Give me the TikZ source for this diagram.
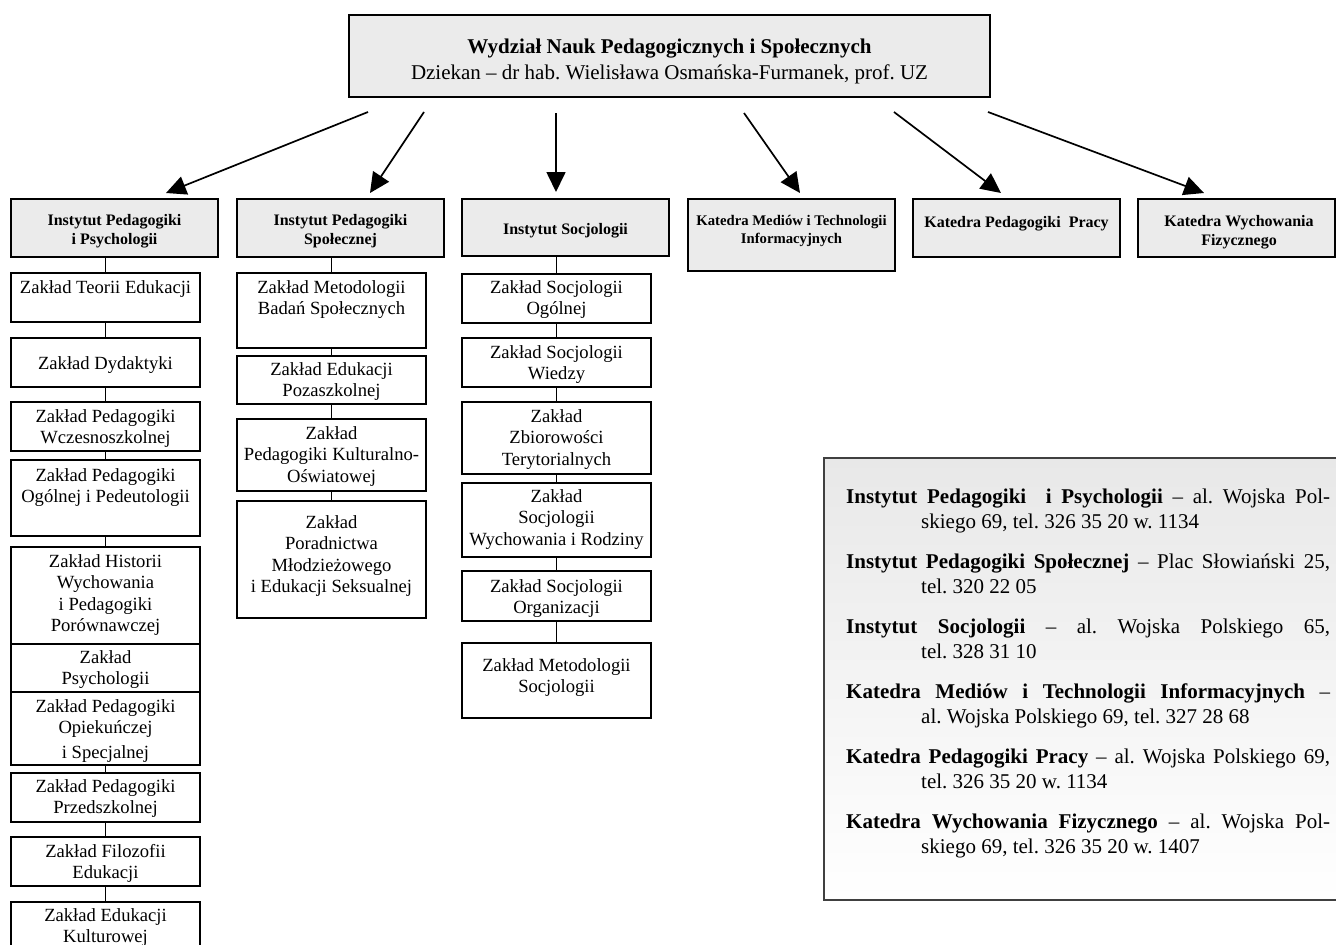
\documentclass[tikz,border=0pt]{standalone}
\usepackage{fontspec}
\setmainfont{Liberation Serif}
\usetikzlibrary{arrows.meta,calc}
\frenchspacing
\definecolor{hdrgray}{RGB}{235,235,235}
\definecolor{leggray}{RGB}{232,232,232}
\newcommand\subf{\fontsize{18.6pt}{21.5pt}\selectfont}
\newcommand\hdrf{\bfseries\fontsize{16pt}{19pt}\selectfont}
\newcommand\legf{\fontsize{21pt}{25pt}\selectfont}
\newcommand\topf{\fontsize{21pt}{26pt}\selectfont}
\newcommand\ZakT[4]{\node[txt] (#1) at (#2,#3) {\parbox[t]{240pt}{\centering\subf #4}};}
\newcommand\HdrT[4]{\node[txt] (#1) at (#2,#3) {\parbox[t]{240pt}{\centering\hdrf #4}};}
\newcommand\LegT[4]{\node[txt, anchor=base west] (#1) at (#2,#3) {\parbox[t]{484pt}{\legf\frenchspacing\tolerance=9999 \spaceskip=.25em plus .6em\hangindent=75pt\hangafter=1 #4}};}
\tikzset{
 sub/.style={draw, line width=1.8pt, fill=white, inner sep=0pt, outer sep=0pt, anchor=north west, minimum width=189pt},
 hdr/.style={draw, line width=1.8pt, fill=hdrgray, inner sep=0pt, outer sep=0pt, anchor=north west, minimum width=207pt, minimum height=58pt},
 txt/.style={inner sep=0pt, anchor=base},
 conn/.style={line width=1.8pt},
 arr/.style={line width=1.7pt, -{Triangle[length=20pt,width=19pt]}},
}
\begin{document}
\begin{tikzpicture}[x=1pt,y=-1pt]
\useasboundingbox (0,0) rectangle (1336,945);
\fill[white] (0,0) rectangle (1336,945);
\clip (0,0) rectangle (1336,945);

% top box
\node[draw, line width=2.4pt, fill=hdrgray, inner sep=0pt, outer sep=0pt, anchor=north west, minimum width=641pt, minimum height=82pt] (wydz) at (349,15) {};
\node[txt] (wydzT) at (669.5,53) {\parbox[t]{640pt}{\centering\topf\frenchspacing\textbf{Wydział Nauk Pedagogicznych i Społecznych}\\Dziekan – dr hab. Wielisława Osmańska-Furmanek, prof. UZ}};

% header boxes
\node[hdr] (ipip) at (11,199) {};
\node[hdr] (ips) at (237,199) {};
\node[hdr, minimum height=57pt] (is) at (462,199) {};
\node[hdr, minimum height=72pt] (kmti) at (688,199) {};
\node[hdr] (kpp) at (913,199) {};
\node[hdr, minimum width=197pt] (kwf) at (1138,199) {};

\HdrT{ipipT}{114.5}{225}{Instytut Pedagogiki\\i Psychologii}
\HdrT{ipsT}{340.5}{225}{Instytut Pedagogiki\\Społecznej}
\HdrT{isT}{565.5}{234}{Instytut Socjologii}
\node[txt] (kmtiT) at (791.5,225) {\parbox[t]{240pt}{\centering\bfseries\fontsize{14.7pt}{18.5pt}\selectfont Katedra Mediów i Technologii\\Informacyjnych}};
\HdrT{kppT}{1016.5}{227}{Katedra Pedagogiki\ \ Pracy}
\HdrT{kwfT}{1239}{226}{Katedra Wychowania\\Fizycznego}

% arrows
\coordinate (s1) at (368,112);
\coordinate (s2) at (424,112);
\coordinate (s3) at (556,113);
\coordinate (s4) at (744,113);
\coordinate (s5) at (894,112);
\coordinate (s6) at (988,112);
\draw[arr] (s1) -- ([xshift=51.5pt,yshift=6pt]ipip.north);
\draw[arr] (s2) -- ([xshift=29.5pt,yshift=6pt]ips.north);
\draw[arr] (s3) -- ([xshift=-9.5pt,yshift=7pt]is.north);
\draw[arr] (s4) -- ([xshift=8.5pt,yshift=6pt]kmti.north);
\draw[arr] (s5) -- ([xshift=-15.5pt,yshift=6pt]kpp.north);
\draw[arr] (s6) -- ([xshift=-32.5pt,yshift=6pt]kwf.north);

% column 1
\node[sub, minimum height=49pt] (c1a) at (11,273) {};
\node[sub, minimum height=49pt] (c1b) at (11,338) {};
\node[sub, minimum height=49pt] (c1c) at (11,402) {};
\node[sub, minimum height=76pt] (c1d) at (11,460) {};
\node[sub, minimum height=97pt] (c1e) at (11,547) {};
\node[sub, minimum height=48pt] (c1f) at (11,644) {};
\node[sub, minimum height=73pt] (c1g) at (11,692) {};
\node[sub, minimum height=49pt] (c1h) at (11,773) {};
\node[sub, minimum height=49pt] (c1i) at (11,837) {};
\node[sub, minimum height=80pt] (c1j) at (11,902) {};
\draw[conn] (c1a.north |- ipip.south) -- (c1a.north);
\draw[conn] (c1a.south) -- (c1b.north);
\draw[conn] (c1b.south) -- (c1c.north);
\draw[conn] (c1c.south) -- (c1d.north);
\draw[conn] (c1d.south) -- (c1e.north);
\draw[conn] (c1g.south) -- (c1h.north);
\draw[conn] (c1h.south) -- (c1i.north);
\draw[conn] (c1i.south) -- (c1j.north);
\ZakT{c1aT}{105.5}{293}{Zakład Teorii Edukacji}
\ZakT{c1bT}{105.5}{369}{Zakład Dydaktyki}
\ZakT{c1cT}{105.5}{422}{Zakład Pedagogiki\\Wczesnoszkolnej}
\ZakT{c1dT}{105.5}{481}{Zakład Pedagogiki\\Ogólnej i Pedeutologii}
\ZakT{c1eT}{105.5}{567}{Zakład Historii\\Wychowania\\i Pedagogiki\\Porównawczej}
\ZakT{c1fT}{105.5}{663}{Zakład\\Psychologii}
\ZakT{c1gT}{105.5}{712}{Zakład Pedagogiki\\Opiekuńczej\\[3.5pt]i Specjalnej}
\ZakT{c1hT}{105.5}{792}{Zakład Pedagogiki\\Przedszkolnej}
\ZakT{c1iT}{105.5}{857}{Zakład Filozofii\\Edukacji}
\ZakT{c1jT}{105.5}{921}{Zakład Edukacji\\Kulturowej}

% column 2
\node[sub, minimum height=75pt] (c2a) at (237,273) {};
\node[sub, minimum height=48pt] (c2b) at (237,356) {};
\node[sub, minimum height=72pt] (c2c) at (237,419) {};
\node[sub, minimum height=117pt] (c2d) at (237,501) {};
\draw[conn] (c2a.north |- ips.south) -- (c2a.north);
\draw[conn] (c2a.south) -- (c2b.north);
\draw[conn] (c2b.south) -- (c2c.north);
\draw[conn] (c2c.south) -- (c2d.north);
\ZakT{c2aT}{331.5}{293}{Zakład Metodologii\\Badań Społecznych}
\ZakT{c2bT}{331.5}{375}{Zakład Edukacji\\Pozaszkolnej}
\ZakT{c2cT}{331.5}{439}{Zakład\\Pedagogiki Kulturalno-\\Oświatowej}
\ZakT{c2dT}{331.5}{528}{Zakład\\Poradnictwa\\Młodzieżowego\\i Edukacji Seksualnej}

% column 3
\node[sub, minimum height=49pt] (c3a) at (462,274) {};
\node[sub, minimum height=49pt] (c3b) at (462,338) {};
\node[sub, minimum height=72pt] (c3c) at (462,402) {};
\node[sub, minimum height=74pt] (c3d) at (462,483) {};
\node[sub, minimum height=50pt] (c3e) at (462,571) {};
\node[sub, minimum height=75pt] (c3f) at (462,643) {};
\draw[conn] (c3a.north |- is.south) -- (c3a.north);
\draw[conn] (c3a.south) -- (c3b.north);
\draw[conn] (c3b.south) -- (c3c.north);
\draw[conn] (c3c.south) -- (c3d.north);
\draw[conn] (c3d.south) -- (c3e.north);
\draw[conn] (c3e.south) -- (c3f.north);
\ZakT{c3aT}{556.5}{293}{Zakład Socjologii\\Ogólnej}
\ZakT{c3bT}{556.5}{358}{Zakład Socjologii\\Wiedzy}
\ZakT{c3cT}{556.5}{422}{Zakład\\Zbiorowości\\Terytorialnych}
\ZakT{c3dT}{556.5}{502}{Zakład\\Socjologii\\Wychowania i Rodziny}
\ZakT{c3eT}{556.5}{592}{Zakład Socjologii\\Organizacji}
\ZakT{c3fT}{556.5}{671}{Zakład Metodologii\\Socjologii}

% legend
\node[draw=black!75, line width=2pt, top color=leggray, bottom color=white, inner sep=0pt, outer sep=0pt, anchor=north west, minimum width=525pt, minimum height=442pt] (leg) at (824,458) {};
\LegT{l1}{846}{503}{\textbf{Instytut Pedagogiki\ \ i Psychologii} – al. Wojska Pol-\linebreak skiego 69, tel. 326 35 20 w. 1134}
\LegT{l2}{846}{568}{\textbf{Instytut Pedagogiki Społecznej} – Plac Słowiański 25,\linebreak tel. 320 22 05}
\LegT{l3}{846}{633}{\textbf{Instytut Socjologii} – al. Wojska Polskiego 65,\linebreak tel. 328 31 10}
\LegT{l4}{846}{698}{\textbf{Katedra Mediów i Technologii Informacyjnych} –\linebreak al. Wojska Polskiego 69, tel. 327 28 68}
\LegT{l5}{846}{763}{\textbf{Katedra Pedagogiki Pracy} – al. Wojska Polskiego 69,\linebreak tel. 326 35 20 w. 1134}
\LegT{l6}{846}{828}{\textbf{Katedra Wychowania Fizycznego} – al. Wojska Pol-\linebreak skiego 69, tel. 326 35 20 w. 1407}
\end{tikzpicture}
\end{document}
